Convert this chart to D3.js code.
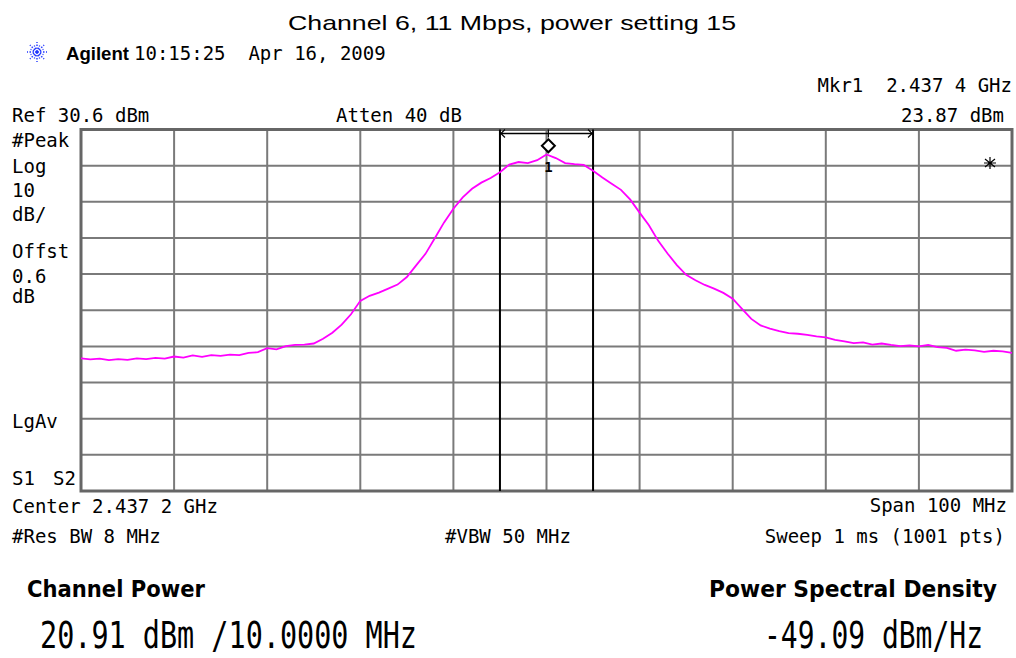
<!DOCTYPE html>
<html>
<head>
<meta charset="utf-8">
<script src="https://cdn.jsdelivr.net/npm/d3@7"></script>
<style>
body { margin: 0; background: #fff; }
text { white-space: pre; }
</style>
</head>
<body>
<script>
var w = 1016, h = 658;

// instrument settings
var startMHz = 2387.2, spanMHz = 100;
var refDbm = 30.6, dbPerDiv = 10, divs = 10;

// trace, 1 MHz steps from start to stop
var traceDbm = [
  -32.7, -33.0, -32.8, -33.2, -32.9, -33.1, -32.7, -32.9, -32.6, -32.8,
  -32.2, -32.5, -31.9, -32.3, -31.8, -32.0, -31.7, -31.8, -31.2, -31.0,
  -29.9, -30.2, -29.3, -29.0, -28.9, -28.6, -27.3, -25.6, -23.4, -20.5,
  -16.8, -15.4, -14.5, -13.4, -12.3, -10.2, -7.0, -3.8, 0.5, 4.9,
  8.7, 11.8, 14.2, 15.9, 17.2, 18.8, 20.9, 21.6, 21.3, 22.1,
  23.7, 22.7, 21.3, 21.0, 20.8, 19.2, 17.3, 15.6, 13.9, 11.2,
  7.6, 4.1, -0.2, -3.7, -6.9, -9.6, -11.1, -12.4, -13.4, -14.6,
  -16.2, -19.0, -21.8, -23.6, -24.5, -25.2, -25.7, -25.9, -26.2, -26.6,
  -26.9, -27.6, -28.0, -28.5, -28.3, -28.9, -28.6, -29.0, -29.3, -29.1,
  -29.4, -29.0, -29.6, -29.8, -30.6, -30.3, -30.5, -30.9, -30.6, -30.8,
  -31.2
];

var mkrMHz = 2437.4, mkrDbm = 23.87;
var chanCenterMHz = 2437.2, chanBwMHz = 10;

var leftLabels = ['#Peak', 'Log', '10', 'dB/', 'Offst', '0.6', 'dB'];
var leftLabelY = [147, 173, 197, 221, 258, 283, 303];

var mono = '"DejaVu Sans Mono", monospace';
var sans = '"Liberation Sans", Arial, sans-serif';

var svg = d3.select('body').append('svg')
    .attr('width', w)
    .attr('height', h)
    .style('background', '#fff');

var plot = {left: 81, right: 1012, top: 129.5, bottom: 491};

var x = d3.scaleLinear()
    .domain([startMHz, startMHz + spanMHz])
    .range([plot.left, plot.right]);
var y = d3.scaleLinear()
    .domain([refDbm - dbPerDiv * divs, refDbm])
    .range([plot.bottom, plot.top]);

// grid
var xGrid = d3.range(divs + 1).map(i => startMHz + i * spanMHz / divs);
var yGrid = d3.range(divs + 1).map(i => refDbm - i * dbPerDiv);

var grid = svg.append('g');
grid.selectAll('line.gx').data(xGrid).enter()
    .append('line')
    .attr('x1', d => x(d)).attr('x2', d => x(d))
    .attr('y1', plot.top).attr('y2', plot.bottom)
    .attr('stroke', '#7a7a7a').attr('stroke-width', 2);
grid.selectAll('line.gy').data(yGrid).enter()
    .append('line')
    .attr('x1', plot.left).attr('x2', plot.right)
    .attr('y1', d => y(d)).attr('y2', d => y(d))
    .attr('stroke', '#7a7a7a').attr('stroke-width', 2);
grid.append('rect')
    .attr('x', plot.left).attr('y', plot.top)
    .attr('width', plot.right - plot.left).attr('height', plot.bottom - plot.top)
    .attr('fill', 'none').attr('stroke', '#666').attr('stroke-width', 3);

// channel bandwidth lines
var chanEdges = [chanCenterMHz - chanBwMHz / 2, chanCenterMHz + chanBwMHz / 2];
svg.selectAll('line.chan').data(chanEdges).enter()
    .append('line')
    .attr('x1', d => x(d)).attr('x2', d => x(d))
    .attr('y1', plot.top).attr('y2', plot.bottom)
    .attr('stroke', '#000').attr('stroke-width', 2);

var arrowY = plot.top + 4;
svg.append('line')
    .attr('x1', x(chanEdges[0])).attr('x2', x(chanEdges[1]))
    .attr('y1', arrowY).attr('y2', arrowY)
    .attr('stroke', '#000').attr('stroke-width', 1.5);
svg.append('path')
    .attr('d', 'M' + (x(chanEdges[0]) + 5) + ',' + (arrowY - 4) + ' L' + (x(chanEdges[0]) + 1) + ',' + arrowY + ' L' + (x(chanEdges[0]) + 5) + ',' + (arrowY + 4)
        + ' M' + (x(chanEdges[1]) - 5) + ',' + (arrowY - 4) + ' L' + (x(chanEdges[1]) - 1) + ',' + arrowY + ' L' + (x(chanEdges[1]) - 5) + ',' + (arrowY + 4))
    .attr('fill', 'none').attr('stroke', '#000').attr('stroke-width', 1.2);
svg.append('line')
    .attr('x1', x(mkrMHz)).attr('x2', x(mkrMHz))
    .attr('y1', plot.top).attr('y2', arrowY + 4)
    .attr('stroke', '#000').attr('stroke-width', 1.2);

// trace
var line = d3.line()
    .x((d, i) => x(startMHz + i * spanMHz / (traceDbm.length - 1)))
    .y(d => y(d));
svg.append('path')
    .datum(traceDbm)
    .attr('d', line)
    .attr('fill', 'none')
    .attr('stroke', '#ff00ff')
    .attr('stroke-width', 1.8);

// marker 1
var mx = x(mkrMHz), my = y(mkrDbm) - 8;
svg.append('path')
    .attr('d', 'M' + mx + ',' + (my - 6.5) + ' L' + (mx + 6.5) + ',' + my + ' L' + mx + ',' + (my + 6.5) + ' L' + (mx - 6.5) + ',' + my + ' Z')
    .attr('fill', '#fff').attr('stroke', '#000').attr('stroke-width', 2);
svg.append('text')
    .attr('x', mx).attr('y', 172)
    .attr('text-anchor', 'middle')
    .attr('font-family', mono).attr('font-size', 14)
    .attr('font-weight', 'bold')
    .text('1');

// display-line star at right
var sx = 990, sy = 163;
svg.append('path')
    .attr('d', 'M' + sx + ',' + (sy - 6) + ' L' + sx + ',' + (sy + 6)
        + ' M' + (sx - 5) + ',' + (sy - 4) + ' L' + (sx + 5) + ',' + (sy + 4)
        + ' M' + (sx + 5) + ',' + (sy - 4) + ' L' + (sx - 5) + ',' + (sy + 4)
        + ' M' + (sx - 6) + ',' + sy + ' L' + (sx + 6) + ',' + sy)
    .attr('stroke', '#000').attr('stroke-width', 1.2);

// agilent spark logo
var logo = svg.append('g').attr('transform', 'translate(37,52)');
d3.range(16).forEach(function(i) {
    var a = i * Math.PI / 8;
    var r = i % 2 ? 7 : 10;
    logo.append('line')
        .attr('x1', 0).attr('y1', 0)
        .attr('x2', r * Math.cos(a)).attr('y2', r * Math.sin(a))
        .attr('stroke', '#1f35ff').attr('stroke-width', 1.4)
        .attr('stroke-dasharray', '1.5,1.5');
});

// texts
function txt(s, tx, ty, opts) {
    opts = opts || {};
    var t = svg.append('text')
        .attr('x', tx).attr('y', ty)
        .attr('font-family', opts.family || mono)
        .attr('font-size', opts.size || 19)
        .attr('font-weight', opts.weight || 'normal')
        .attr('text-anchor', opts.anchor || 'start')
        .attr('fill', '#000')
        .text(s);
    if (opts.len) t.attr('textLength', opts.len).attr('lengthAdjust', 'spacingAndGlyphs');
    if (opts.sy) {
        t.attr('x', 0).attr('y', 0)
         .attr('transform', 'translate(' + tx + ',' + ty + ') scale(1,' + opts.sy + ')');
    }
    return t;
}

txt('Channel 6, 11 Mbps, power setting 15', 288, 30, {family: sans, size: 21, len: 448});
txt('Agilent', 66, 60, {family: sans, size: 19, weight: 'bold', len: 63});
txt('10:15:25  Apr 16, 2009', 134, 60);
txt('Mkr1  2.437 4 GHz', 1012, 92, {anchor: 'end'});
txt('23.87 dBm', 1004, 122, {anchor: 'end'});
txt('Ref 30.6 dBm', 12, 122);
txt('Atten 40 dB', 336, 122);

leftLabels.forEach(function(s, i) { txt(s, 12, leftLabelY[i]); });
txt('LgAv', 12, 428);
txt('S1', 12, 485);
txt('S2', 53, 485);

txt('Center 2.437 2 GHz', 12, 513);
txt('Span 100 MHz', 1007, 512, {anchor: 'end'});
txt('#Res BW 8 MHz', 12, 543);
txt('#VBW 50 MHz', 445, 543);
txt('Sweep 1 ms (1001 pts)', 1005, 543, {anchor: 'end'});

txt('Channel Power', 27, 597, {family: '"DejaVu Sans", sans-serif', size: 21, weight: 'bold', len: 178, sy: 1.12});
txt('Power Spectral Density', 709, 597, {family: '"DejaVu Sans", sans-serif', size: 21, weight: 'bold', len: 288, sy: 1.12});
txt('20.91 dBm /10.0000 MHz', 40, 648, {size: 28, len: 377, sy: 1.3});
txt('-49.09 dBm/Hz', 764, 648, {size: 28, len: 219, sy: 1.3});
</script>
</body>
</html>
